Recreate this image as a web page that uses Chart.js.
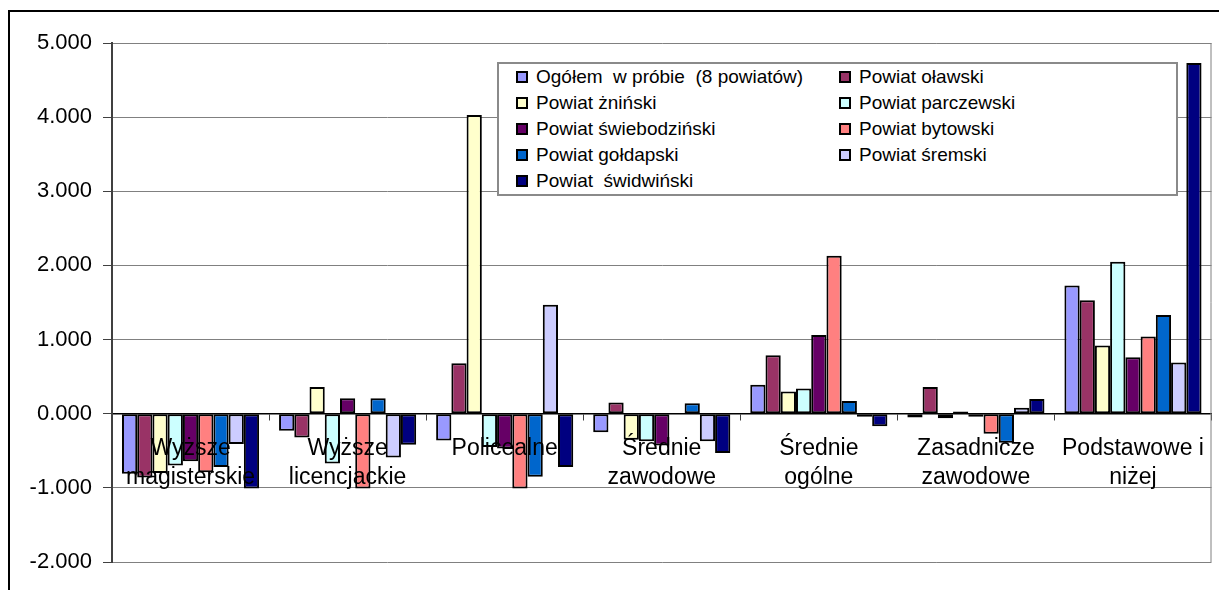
<!DOCTYPE html>
<html>
<head>
<meta charset="utf-8">
<script src="https://cdn.jsdelivr.net/npm/chart.js@4.4.1/dist/chart.umd.min.js"></script>
<style>
  body { margin: 0; background: #fff; }
  #wrap { position: relative; width: 1219px; height: 590px; overflow: hidden; }
  #frame { position: absolute; left: 8px; top: 10px; width: 1300px; height: 700px; border: 2px solid #000; }
  #chart { position: absolute; left: 0; top: 0; }
  #legend {
    position: absolute; left: 497px; top: 62px; width: 681px; height: 134px;
    box-sizing: border-box; border: 2px solid #8a8a8a; background: #fff;
    font: 19px "Liberation Sans", Arial, sans-serif; color: #000;
  }
  .item { position: absolute; height: 26px; line-height: 26px; white-space: pre; display: flex; align-items: center; }
  .sw { width: 12px; height: 12px; box-sizing: border-box; border: 2px solid #000; margin-right: 8px; }
</style>
</head>
<body>
<div id="wrap">
  <div id="frame"></div>
  <canvas id="chart" width="1219" height="590"></canvas>
  <div id="legend"></div>
</div>
<script>
const categories = [
  ['Wyższe', 'magisterskie'],
  ['Wyższe', 'licencjackie'],
  'Policealne',
  ['Średnie', 'zawodowe'],
  ['Średnie', 'ogólne'],
  ['Zasadnicze', 'zawodowe'],
  ['Podstawowe i', 'niżej']
];

const seriesNames = [
  'Ogółem  w próbie  (8 powiatów)',
  'Powiat oławski',
  'Powiat żniński',
  'Powiat parczewski',
  'Powiat świebodziński',
  'Powiat bytowski',
  'Powiat gołdapski',
  'Powiat śremski',
  'Powiat  świdwiński'
];

const seriesColors = ['#9999FF', '#993366', '#FFFFCC', '#CCFFFF', '#660066', '#FF8080', '#0066CC', '#CCCCFF', '#000080'];

const ogolem        = [-0.81, -0.23, -0.36, -0.25,  0.39, -0.05, 1.73];
const olawski       = [-0.86, -0.32,  0.68,  0.15,  0.79,  0.36, 1.53];
const zninski       = [-0.80,  0.36,  4.03, -0.35,  0.30, -0.06, 0.92];
const parczewski    = [-0.70, -0.67, -0.45, -0.37,  0.34,  0.03, 2.05];
const swiebodzinski = [-0.64,  0.21, -0.47, -0.43,  1.06, -0.04, 0.76];
const bytowski      = [-0.79, -1.01, -1.01,  0.00,  2.13, -0.27, 1.04];
const goldapski     = [-0.72,  0.21, -0.85,  0.14,  0.17, -0.39, 1.33];
const sremski       = [-0.41, -0.59,  1.47, -0.37, -0.04,  0.08, 0.69];
const swidwinski    = [-1.01, -0.42, -0.72, -0.53, -0.17,  0.20, 4.73];

const seriesValues = [ogolem, olawski, zninski, parczewski, swiebodzinski, bytowski, goldapski, sremski, swidwinski];

const yMin = -2, yMax = 5, yStep = 1;

Chart.defaults.font.family = '"Liberation Sans", Arial, sans-serif';
Chart.defaults.color = '#000';

const datasets = seriesNames.map((name, i) => ({
  label: name,
  data: seriesValues[i],
  backgroundColor: seriesColors[i]
}));

// gray frame on the right side of the plot area
const plotFrame = {
  id: 'plotFrame',
  afterDraw(chart) {
    const a = chart.chartArea;
    const c = chart.ctx;
    c.save();
    c.strokeStyle = '#808080';
    c.lineWidth = 1;
    c.beginPath();
    c.moveTo(a.right - 0.5, a.top);
    c.lineTo(a.right - 0.5, a.bottom);
    c.stroke();
    c.restore();
  }
};

const ctx = document.getElementById('chart').getContext('2d');
const chart = new Chart(ctx, {
  type: 'bar',
  data: { labels: categories, datasets: datasets },
  options: {
    responsive: false,
    animation: false,
    layout: { padding: { top: 43, bottom: 28, left: 0, right: 1 } },
    plugins: { legend: { display: false }, tooltip: { enabled: false } },
    datasets: {
      bar: {
        categoryPercentage: 0.873,
        barPercentage: 1,
        borderWidth: 2,
        borderColor: '#000',
        borderSkipped: false
      }
    },
    scales: {
      x: {
        position: { y: 0 },
        grid: { offset: true, drawOnChartArea: false, tickLength: 6, color: '#404040' },
        border: { color: '#000', width: 1.5 },
        ticks: {
          z: 1, // category names sit on top of the bars
          color: '#000',
          font: { size: 23, lineHeight: 1.25 },
          padding: 15,
          maxRotation: 0,
          autoSkip: false
        }
      },
      y: {
        min: yMin,
        max: yMax,
        ticks: {
          stepSize: yStep,
          callback: v => v.toFixed(3),
          font: { size: 22 },
          padding: 11,
          color: '#000'
        },
        grid: { color: '#808080', tickLength: 9, tickColor: '#404040' },
        border: { color: '#404040', width: 2 },
        afterFit: s => { s.width = 112; }
      }
    }
  },
  plugins: [plotFrame]
});

// legend, two columns, row by row
const legend = document.getElementById('legend');
chart.data.datasets.forEach((ds, i) => {
  const item = document.createElement('div');
  item.className = 'item';
  item.style.left = (i % 2 === 0 ? 17 : 340) + 'px';
  item.style.top = (Math.floor(i / 2) * 26) + 'px';
  const sw = document.createElement('span');
  sw.className = 'sw';
  sw.style.background = ds.backgroundColor;
  const txt = document.createElement('span');
  txt.textContent = ds.label;
  item.appendChild(sw);
  item.appendChild(txt);
  legend.appendChild(item);
});
</script>
</body>
</html>
